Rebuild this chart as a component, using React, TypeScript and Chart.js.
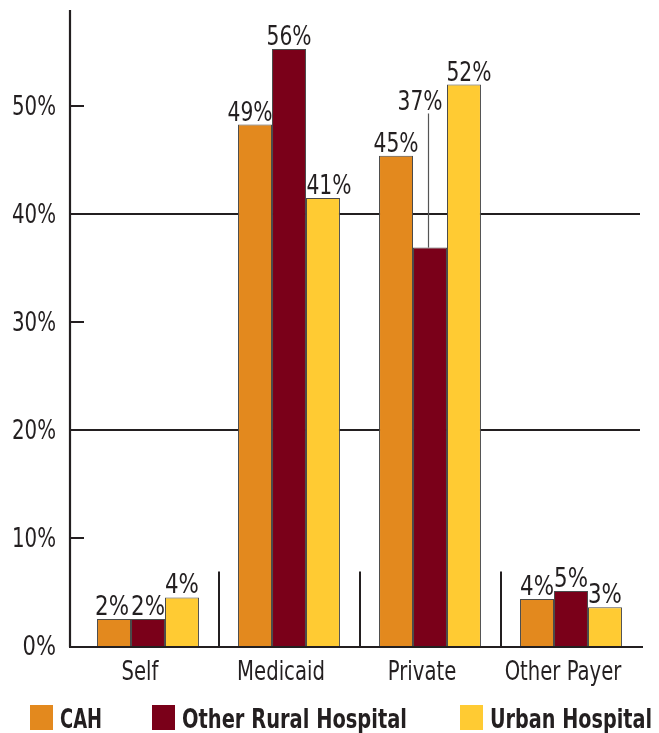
import React, { useEffect, useRef } from "react";
import { Chart, registerables } from "chart.js";

Chart.register(...registerables);

// ---- data ----
const categories = ["Self", "Medicaid", "Private", "Other Payer"];
const seriesNames = ["CAH", "Other Rural Hospital", "Urban Hospital"];
const cahValues = [2.5, 48.3, 45.4, 4.35];
const ruralValues = [2.5, 55.3, 36.9, 5.1];
const urbanValues = [4.5, 41.5, 52.0, 3.6];
const cahLabels = ["2%", "49%", "45%", "4%"];
const ruralLabels = ["2%", "56%", "37%", "5%"];
const urbanLabels = ["4%", "41%", "52%", "3%"];
const yTickValues = [0, 10, 20, 30, 40, 50];
const yTickLabels = ["0%", "10%", "20%", "30%", "40%", "50%"];
const gridValues = [20, 40];
const shortTickValues = [10, 30, 50];
const yMax = 59;
const separatorTop = 6.9;
const calloutLevel = 49.6; // 37% label lifted above the group with a leader line

// ---- style ----
const colors = ["#E3891E", "#7A0019", "#FFCB33"];
const FONT = "'Liberation Sans Narrow', 'DejaVu Sans Condensed', 'Arial Narrow', sans-serif";
const INK = "#231f20";
const labelShift = [
  [-2, -5, 0, 0],
  [0, 0, -10, 0],
  [0, 6, 5, 0],
];
const legendX = [30, 152, 460];
const legendTextW = [42, 225, 162];

export default function App() {
  const ref = useRef<HTMLCanvasElement | null>(null);

  useEffect(() => {
    document.body.style.margin = "0";
    const canvas = ref.current;
    if (!canvas) return;
    const valueLabels = [cahLabels, ruralLabels, urbanLabels];

    const overlay = {
      id: "overlay",
      beforeDatasetsDraw(chart: any) {
        const { ctx, chartArea, scales } = chart;
        const y = scales.y;
        ctx.save();
        ctx.strokeStyle = INK;
        ctx.lineWidth = 2;
        const axisX = chartArea.left - 7.5;
        gridValues.forEach((v) => {
          const py = Math.round(y.getPixelForValue(v));
          ctx.beginPath();
          ctx.moveTo(axisX, py);
          ctx.lineTo(chartArea.right - 1.5, py);
          ctx.stroke();
        });
        ctx.restore();
      },
      afterDatasetsDraw(chart: any) {
        const { ctx, chartArea, scales } = chart;
        const x = scales.x;
        const y = scales.y;
        const axisX = chartArea.left - 7.5;
        const zeroY = Math.round(y.getPixelForValue(0)) + 1;
        ctx.save();
        ctx.strokeStyle = INK;
        ctx.lineWidth = 2.2;
        // y axis
        ctx.beginPath();
        ctx.moveTo(axisX, chartArea.top + 1);
        ctx.lineTo(axisX, zeroY);
        ctx.stroke();
        // x axis
        ctx.beginPath();
        ctx.moveTo(axisX - 1, zeroY);
        ctx.lineTo(chartArea.right + 1.5, zeroY);
        ctx.stroke();
        // short ticks
        ctx.lineWidth = 2;
        shortTickValues.forEach((v) => {
          const py = Math.round(y.getPixelForValue(v));
          ctx.beginPath();
          ctx.moveTo(axisX, py);
          ctx.lineTo(axisX + 14, py);
          ctx.stroke();
        });
        // category separators
        for (let i = 0; i < categories.length - 1; i++) {
          const sx = Math.round((x.getPixelForValue(i) + x.getPixelForValue(i + 1)) / 2);
          ctx.beginPath();
          ctx.moveTo(sx, y.getPixelForValue(separatorTop));
          ctx.lineTo(sx, zeroY);
          ctx.stroke();
        }
        // y tick labels
        ctx.fillStyle = INK;
        ctx.font = `26px ${FONT}`;
        ctx.textAlign = "right";
        ctx.textBaseline = "alphabetic";
        yTickValues.forEach((v, i) => {
          const py = y.getPixelForValue(v);
          const w = ctx.measureText(yTickLabels[i]).width;
          ctx.fillText(yTickLabels[i], 56, py + 9, Math.min(w * 0.9, 44));
        });
        // category labels
        ctx.textAlign = "center";
        ctx.font = `26px ${FONT}`;
        categories.forEach((c, i) => {
          const w = ctx.measureText(c).width;
          ctx.fillText(c, x.getPixelForValue(i) - 8, 680, w * 0.84);
        });
        // value labels
        ctx.font = `27px ${FONT}`;
        chart.data.datasets.forEach((ds: any, d: number) => {
          const meta = chart.getDatasetMeta(d);
          meta.data.forEach((bar: any, i: number) => {
            const txt = valueLabels[d][i];
            const isCallout = d === 1 && i === 2;
            const lx = bar.x + labelShift[d][i];
            let ly = bar.y - 4;
            if (isCallout) {
              ly = y.getPixelForValue(calloutLevel);
              ctx.save();
              ctx.strokeStyle = "#555";
              ctx.lineWidth = 1.2;
              ctx.beginPath();
              ctx.moveTo(bar.x - 1.5, ly + 3);
              ctx.lineTo(bar.x - 1.5, bar.y);
              ctx.stroke();
              ctx.restore();
            }
            const w = ctx.measureText(txt).width;
            ctx.fillText(txt, lx, ly, Math.min(w * 0.88, 45));
          });
        });
        // legend
        ctx.textAlign = "left";
        ctx.font = `bold 27px ${FONT}`;
        seriesNames.forEach((name, i) => {
          ctx.fillStyle = colors[i];
          ctx.fillRect(legendX[i], 705, 23, 25);
          ctx.fillStyle = INK;
          ctx.fillText(name, legendX[i] + 30, 728, legendTextW[i]);
        });
        ctx.restore();
      },
    };

    const chart = new Chart(canvas, {
      type: "bar",
      data: {
        labels: categories,
        datasets: [cahValues, ruralValues, urbanValues].map((vals, i) => ({
          label: seriesNames[i],
          data: vals,
          backgroundColor: colors[i],
          borderColor: "#4a4a4a",
          borderWidth: 1,
          categoryPercentage: 0.723,
          barPercentage: 1,
        })),
      },
      options: {
        responsive: false,
        animation: false,
        layout: { padding: { left: 77.5, right: 17.5, top: 9, bottom: 87 } },
        plugins: { legend: { display: false }, tooltip: { enabled: false } },
        scales: {
          x: { display: false },
          y: { display: false, min: 0, max: yMax },
        },
      },
      plugins: [overlay],
    });
    return () => chart.destroy();
  }, []);

  return <canvas ref={ref} width={659} height={733} style={{ display: "block" }} />;
}
